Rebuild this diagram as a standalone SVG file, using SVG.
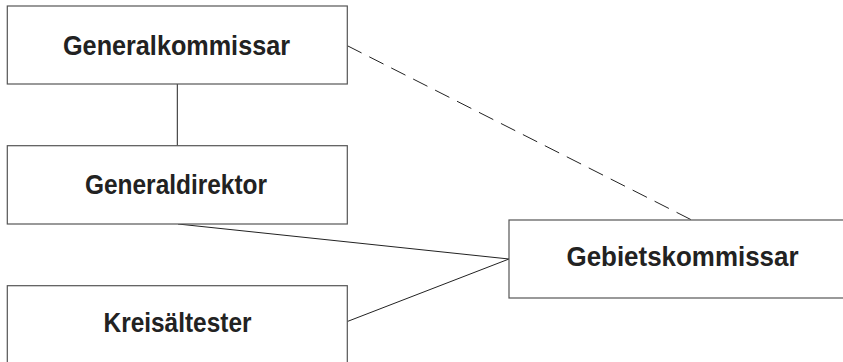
<svg xmlns="http://www.w3.org/2000/svg" width="843" height="362" viewBox="0 0 843 362">
<style>
.box{fill:#fff;stroke:#555;stroke-width:1.2}
.lbl{font-family:"Liberation Sans",Arial,sans-serif;font-weight:bold;font-size:28px;fill:#222;text-anchor:middle}
.ln{stroke:#222;stroke-width:1;fill:none}
.dash{stroke-dasharray:16 8.6}
</style>
<rect width="843" height="362" fill="#fff"/>
<g id="connectors">
<line class="ln" x1="177.3" y1="84" x2="177.3" y2="145.7"/>
<line class="ln dash" x1="347.3" y1="45.7" x2="691.7" y2="220"/>
<line class="ln" x1="178" y1="224" x2="509" y2="259"/>
<line class="ln" x1="347.3" y1="321.5" x2="509" y2="259"/>
</g>
<g id="generalkommissar">
<rect class="box" x="7.3" y="6" width="340" height="78"/>
<text class="lbl" x="176.5" y="54.5" textLength="227" lengthAdjust="spacingAndGlyphs">Generalkommissar</text>
</g>
<g id="generaldirektor">
<rect class="box" x="7.3" y="145.7" width="340" height="78.3"/>
<text class="lbl" x="176" y="193.5" textLength="182" lengthAdjust="spacingAndGlyphs">Generaldirektor</text>
</g>
<g id="kreisaeltester">
<rect class="box" x="7.3" y="285.7" width="340" height="80"/>
<text class="lbl" x="177.5" y="331.8" textLength="148" lengthAdjust="spacingAndGlyphs">Kreisältester</text>
</g>
<g id="gebietskommissar">
<rect class="box" x="509" y="220" width="345" height="78"/>
<text class="lbl" x="682.5" y="266" textLength="232" lengthAdjust="spacingAndGlyphs">Gebietskommissar</text>
</g>
</svg>
